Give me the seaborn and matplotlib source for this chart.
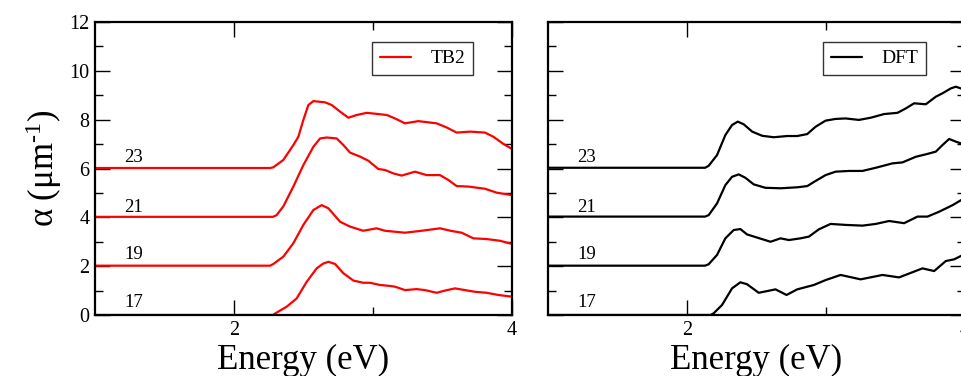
import matplotlib
matplotlib.use("Agg")
import matplotlib.pyplot as plt
import seaborn as sns
import pandas as pd
from matplotlib.ticker import MultipleLocator, FixedLocator

sns.set_theme(style="ticks")
plt.rcParams["font.family"] = ["Liberation Serif", "DejaVu Serif"]
plt.rcParams["mathtext.fontset"] = "custom"
plt.rcParams["mathtext.rm"] = "Liberation Serif"
plt.rcParams["mathtext.it"] = "Liberation Serif:italic"
plt.rcParams["text.color"] = "black"
plt.rcParams["axes.labelcolor"] = "black"
plt.rcParams["xtick.color"] = "black"
plt.rcParams["ytick.color"] = "black"

# ---------------- data: TB2 (left panel), vertically offset spectra ----------------
tb2_e17 = [1.00, 2.28, 2.307, 2.379, 2.451, 2.523, 2.595, 2.64, 2.679, 2.727, 2.787, 2.859, 2.930, 2.978, 3.050, 3.122, 3.158,
           3.230, 3.314, 3.374, 3.458, 3.518, 3.590, 3.662, 3.734, 3.818, 3.902, 4.00]
tb2_a17 = [0.00, 0.00, 0.10, 0.34, 0.68, 1.36, 1.91, 2.10, 2.18, 2.09, 1.71, 1.41, 1.32, 1.32, 1.23, 1.19, 1.16,
           1.02, 1.06, 1.02, 0.91, 1.00, 1.09, 1.02, 0.95, 0.91, 0.82, 0.75]

tb2_e19 = [1.00, 2.26, 2.283, 2.355, 2.427, 2.499, 2.571, 2.631, 2.679, 2.763, 2.835, 2.930, 3.026, 3.086, 3.230, 3.350,
           3.482, 3.566, 3.638, 3.722, 3.818, 3.914, 4.00]
tb2_a19 = [2.02, 2.02, 2.09, 2.39, 2.94, 3.69, 4.30, 4.50, 4.37, 3.82, 3.62, 3.45, 3.55, 3.45, 3.37, 3.45,
           3.55, 3.44, 3.37, 3.14, 3.11, 3.04, 2.91]

tb2_e21 = [1.00, 2.28, 2.307, 2.355, 2.427, 2.499, 2.571, 2.619, 2.667, 2.739, 2.787, 2.835, 2.906, 2.966, 3.038, 3.086,
           3.146, 3.206, 3.302, 3.386, 3.482, 3.542, 3.602, 3.686, 3.806, 3.890, 4.00]
tb2_a21 = [4.02, 4.02, 4.09, 4.45, 5.26, 6.14, 6.89, 7.23, 7.27, 7.23, 6.96, 6.65, 6.49, 6.32, 5.98, 5.94,
           5.80, 5.71, 5.87, 5.73, 5.73, 5.53, 5.28, 5.26, 5.17, 5.01, 4.91]

tb2_e23 = [1.00, 2.26, 2.283, 2.355, 2.427, 2.463, 2.499, 2.535, 2.571, 2.655, 2.703, 2.763, 2.823, 2.882, 2.955, 3.038,
           3.100, 3.158, 3.230, 3.326, 3.458, 3.530, 3.602, 3.698, 3.806, 3.866, 3.940, 4.00]
tb2_a23 = [6.02, 6.02, 6.05, 6.35, 6.96, 7.30, 7.99, 8.60, 8.76, 8.71, 8.60, 8.33, 8.08, 8.19, 8.28, 8.23,
           8.19, 8.05, 7.85, 7.94, 7.85, 7.68, 7.47, 7.51, 7.47, 7.30, 7.00, 6.80]

# ---------------- data: DFT (right panel) ----------------
dft_e17 = [1.00, 2.17, 2.192, 2.252, 2.324, 2.384, 2.432, 2.516, 2.577, 2.637, 2.716, 2.793, 2.913, 2.997, 3.105, 3.249,
           3.406, 3.526, 3.694, 3.778, 3.862, 3.922, 4.00]
dft_a17 = [0.00, 0.00, 0.07, 0.41, 1.09, 1.34, 1.26, 0.91, 0.98, 1.05, 0.82, 1.05, 1.23, 1.43, 1.64, 1.46,
           1.64, 1.54, 1.91, 1.80, 2.21, 2.28, 2.50]

dft_e19 = [1.00, 2.13, 2.156, 2.216, 2.276, 2.336, 2.384, 2.432, 2.505, 2.601, 2.673, 2.733, 2.817, 2.877, 2.949, 3.033,
           3.141, 3.262, 3.358, 3.454, 3.562, 3.658, 3.730, 3.814, 3.911, 4.00]
dft_a19 = [2.02, 2.02, 2.08, 2.46, 3.14, 3.48, 3.52, 3.30, 3.17, 3.00, 3.14, 3.07, 3.14, 3.21, 3.51, 3.73,
           3.69, 3.66, 3.73, 3.85, 3.76, 4.03, 4.03, 4.23, 4.50, 4.80]

dft_e21 = [1.00, 2.13, 2.156, 2.216, 2.276, 2.324, 2.372, 2.420, 2.480, 2.564, 2.673, 2.793, 2.865, 2.925, 2.997, 3.069,
           3.165, 3.262, 3.358, 3.478, 3.550, 3.646, 3.718, 3.790, 3.838, 3.886, 3.934, 4.00]
dft_a21 = [4.03, 4.03, 4.09, 4.57, 5.32, 5.66, 5.76, 5.62, 5.35, 5.21, 5.19, 5.23, 5.28, 5.49, 5.73, 5.87,
           5.90, 5.90, 6.03, 6.21, 6.25, 6.48, 6.58, 6.69, 6.96, 7.21, 7.10, 6.97]

dft_e23 = [1.00, 2.13, 2.156, 2.216, 2.276, 2.324, 2.365, 2.408, 2.469, 2.541, 2.624, 2.721, 2.793, 2.865, 2.925, 2.997,
           3.069, 3.141, 3.237, 3.322, 3.418, 3.514, 3.574, 3.634, 3.718, 3.790, 3.838, 3.898, 3.934, 4.00]
dft_a23 = [6.03, 6.03, 6.11, 6.55, 7.37, 7.78, 7.92, 7.81, 7.51, 7.34, 7.28, 7.33, 7.33, 7.41, 7.71, 7.96,
           8.03, 8.05, 7.99, 8.08, 8.23, 8.28, 8.46, 8.67, 8.63, 8.94, 9.08, 9.28, 9.35, 9.22]

curve_labels = ["17", "19", "21", "23"]
label_y = [0.53, 2.46, 4.42, 6.45]
label_x = 1.28

panels = [
    ("TB2", "red", [(tb2_e17, tb2_a17), (tb2_e19, tb2_a19), (tb2_e21, tb2_a21), (tb2_e23, tb2_a23)]),
    ("DFT", "black", [(dft_e17, dft_a17), (dft_e19, dft_a19), (dft_e21, dft_a21), (dft_e23, dft_a23)]),
]

W, H = 962, 376
fig = plt.figure(figsize=(W / 100, H / 100), dpi=100)
axes = [
    fig.add_axes([95 / W, (H - 315) / H, 417 / W, 293 / H]),
    fig.add_axes([548 / W, (H - 315) / H, 417 / W, 293 / H]),
]

for i, (ax, (name, color, curves)) in enumerate(zip(axes, panels)):
    for j, (e, a) in enumerate(curves):
        df = pd.DataFrame({"E": e, "alpha": a})
        sns.lineplot(data=df, x="E", y="alpha", ax=ax, color=color, lw=1.6,
                     label=name if j == 0 else None, sort=False, legend=False)
    for lab, ly in zip(curve_labels, label_y):
        ax.text(label_x, ly, lab, ha="center", va="center", fontsize=13.5, color="black")
    ax.set_xlim(1, 4)
    ax.set_ylim(0, 12)
    ax.xaxis.set_major_locator(FixedLocator([2, 4]))
    ax.xaxis.set_minor_locator(FixedLocator([3]))
    ax.yaxis.set_major_locator(MultipleLocator(2))
    ax.yaxis.set_minor_locator(MultipleLocator(1))
    ax.tick_params(which="both", direction="in", top=True, right=True, colors="black",
                   labelcolor="black", labelsize=14.5, width=1.0, pad=4)
    ax.tick_params(which="major", length=11)
    ax.tick_params(which="minor", length=5.5)
    for sp in ax.spines.values():
        sp.set_linewidth(1.6)
        sp.set_color("black")
        sp.set_visible(True)
    ax.set_xlabel("Energy (eV)", fontsize=25, labelpad=3.5, color="black")
    if i == 0:
        ax.set_ylabel(r"α (μm$^{\text{-1}}$)", fontsize=25, labelpad=4, color="black")
    else:
        ax.set_ylabel("")
        ax.tick_params(axis="y", labelleft=False)
    handles, labels = ax.get_legend_handles_labels()
    leg = ax.legend(handles[:1], labels[:1], loc="upper right",
                    bbox_to_anchor=(0.907, 0.932), frameon=True, fancybox=False,
                    fontsize=14, handlelength=1.6, handletextpad=1.0, borderpad=0.4,
                    borderaxespad=0.0)
    leg.get_frame().set_edgecolor("black")
    leg.get_frame().set_linewidth(1.0)
    for t in leg.get_texts():
        t.set_color("black")

fig.savefig("out.png", dpi=100)
